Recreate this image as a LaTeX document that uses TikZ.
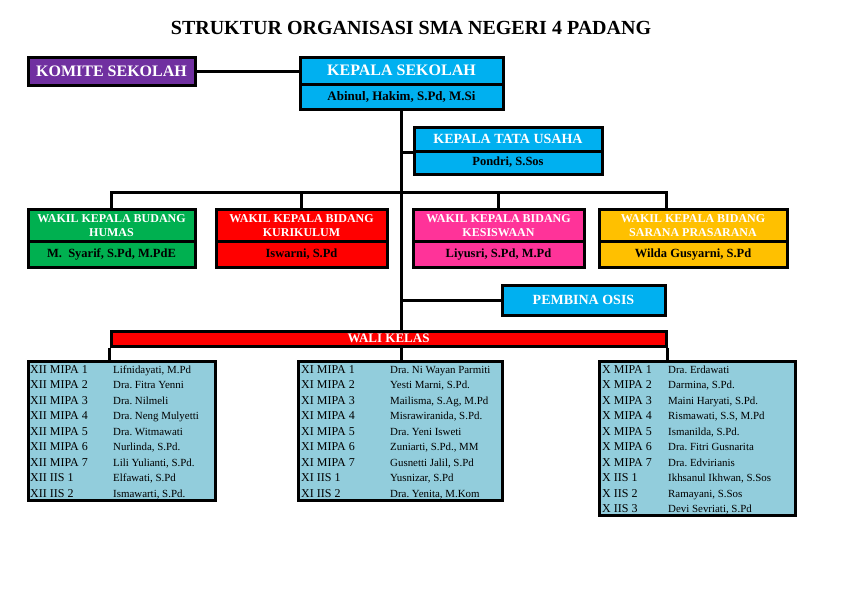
\documentclass[tikz,border=0pt]{standalone}
\usepackage{fontspec}
\setmainfont{Liberation Serif}
\usetikzlibrary{calc}
\frenchspacing
\definecolor{komite}{HTML}{7030A0}
\definecolor{biru}{HTML}{00B0F0}
\definecolor{humas}{HTML}{00B050}
\definecolor{kurikulum}{HTML}{FF0000}
\definecolor{kesiswaan}{HTML}{FF3399}
\definecolor{sarana}{HTML}{FFC000}
\definecolor{tabel}{HTML}{92CDDC}

\begin{document}
\begin{tikzpicture}[x=1pt,y=-1pt,
  box/.style={draw=black, line width=3pt, inner sep=0pt, align=center},
  head/.style={box, text=white, font=\fontsize{16}{17}\selectfont\bfseries},
  nama/.style={box, text=black, font=\fontsize{12.5}{13}\selectfont\bfseries},
  wk/.style={box, text=white, font=\fontsize{12}{14.3}\selectfont\bfseries, minimum height=32},
  wknama/.style={nama, minimum height=26},
  link/.style={line width=3pt},
  tabel/.style={box, fill=tabel},
  kls/.style={inner sep=0pt, anchor=base west, font=\fontsize{12}{13}\selectfont},
  guru/.style={inner sep=0pt, anchor=base west, font=\fontsize{10.9}{12}\selectfont}]
\useasboundingbox (0,0) rectangle (842,595);
\node[font=\fontsize{20}{22}\selectfont\bfseries] (judul) at (411,28) {STRUKTUR ORGANISASI SMA NEGERI 4 PADANG};

\node[head, fill=komite, minimum width=167, minimum height=28] (komite) at (111.5,71) {KOMITE SEKOLAH};
\node[head, fill=biru, minimum width=203, minimum height=27] (kepala) at (401.5,70.5) {KEPALA SEKOLAH};
\node[nama, fill=biru, minimum width=203, minimum height=25, font=\fontsize{13}{14}\selectfont\bfseries] (kepalanama) at (401.5,96.5) {Abinul, Hakim, S.Pd, M.Si};
\node[head, fill=biru, minimum width=188, minimum height=24, font=\fontsize{14}{15}\selectfont\bfseries] (tu) at (508,139) {KEPALA TATA USAHA};
\node[nama, fill=biru, minimum width=188, minimum height=23] (tunama) at (508,162.5) {Pondri, S.Sos};

\foreach \id/\x/\w/\c/\lab/\per in {
 hm/111.5/167/humas/{WAKIL KEPALA BUDANG\\HUMAS}/{M.\ \ Syarif, S.Pd, M.PdE},
 kr/301.5/171/kurikulum/{WAKIL KEPALA BIDANG\\KURIKULUM}/{Iswarni, S.Pd},
 ks/498.5/171/kesiswaan/{WAKIL KEPALA BIDANG\\KESISWAAN}/{Liyusri, S.Pd, M.Pd},
 sr/693/188/sarana/{WAKIL KEPALA BIDANG\\SARANA PRASARANA}/{Wilda Gusyarni, S.Pd}} {
 \node[wk, fill=\c, minimum width=\w] (t\id) at (\x,225.5) {\lab};
 \node[wknama, fill=\c, minimum width=\w] (b\id) at (\x,254.5) {\per};
}

\node[head, fill=biru, minimum width=163, minimum height=30, font=\fontsize{14}{15}\selectfont\bfseries] (pembina) at (583.5,300) {PEMBINA OSIS};
\node[head, fill=kurikulum, minimum width=555, minimum height=15, font=\fontsize{13}{14}\selectfont\bfseries] (wali) at (388.5,338.5) {WALI KELAS};

% connectors
\coordinate (br) at (0,192);
\draw[link] (komite.east) -- (komite.east -| kepala.west);
\draw[link] (kepalanama.south) -- (kepalanama.south |- wali.north);
\draw[link] (kepalanama.south |- tu.south) -- (tu.south west);
\draw[link] (thm.north) |- (br -| pembina.east) -- (pembina.east |- tsr.north);
\foreach \id in {kr,ks}
 \draw[link] (t\id.north) -- (t\id.north |- br);
\draw[link] (kepalanama.south |- pembina.west) -- (pembina.west);

% wali kelas
\node[tabel, minimum width=187, minimum height=139] (kelas12) at (121.5,430.5) {};
\node[tabel, minimum width=204, minimum height=139] (kelas11) at (400,430.5) {};
\node[tabel, minimum width=196, minimum height=154] (kelas10) at (697,438) {};
\draw[link] (wali.south west) -- (wali.south west |- kelas12.north);
\draw[link] (wali.south -| kepalanama.south) -- (kelas11.north -| kepalanama.south);
\draw[link] (wali.south east) -- (wali.south east |- kelas10.north);

\foreach \k/\n [count=\i] in {XII MIPA 1/{Lifnidayati, M.Pd}, XII MIPA 2/Dra. Fitra Yenni,
 XII MIPA 3/Dra. Nilmeli, XII MIPA 4/Dra. Neng Mulyetti, XII MIPA 5/Dra. Witmawati,
 XII MIPA 6/{Nurlinda, S.Pd.}, XII MIPA 7/{Lili Yulianti, S.Pd.}, XII IIS 1/{Elfawati, S.Pd},
 XII IIS 2/{Ismawarti, S.Pd.}} {
 \node[kls] (k12\i) at (30,{373+15.5*(\i-1)}) {\k};
 \node[guru] (g12\i) at (113,{373+15.5*(\i-1)}) {\n};
}
\foreach \k/\n [count=\i] in {XI MIPA 1/Dra. Ni Wayan Parmiti, XI MIPA 2/{Yesti Marni, S.Pd.},
 XI MIPA 3/{Mailisma, S.Ag, M.Pd}, XI MIPA 4/{Misrawiranida, S.Pd.}, XI MIPA 5/Dra. Yeni Isweti,
 XI MIPA 6/{Zuniarti, S.Pd., MM}, XI MIPA 7/{Gusnetti Jalil, S.Pd}, XI IIS 1/{Yusnizar, S.Pd},
 XI IIS 2/{Dra. Yenita, M.Kom}} {
 \node[kls] (k11\i) at (301,{373+15.5*(\i-1)}) {\k};
 \node[guru] (g11\i) at (390,{373+15.5*(\i-1)}) {\n};
}
\foreach \k/\n [count=\i] in {X MIPA 1/Dra. Erdawati, X MIPA 2/{Darmina, S.Pd.},
 X MIPA 3/{Maini Haryati, S.Pd.}, X MIPA 4/{Rismawati, S.S, M.Pd}, X MIPA 5/{Ismanilda, S.Pd.},
 X MIPA 6/Dra. Fitri Gusnarita, X MIPA 7/Dra. Edvirianis, X IIS 1/{Ikhsanul Ikhwan, S.Sos},
 X IIS 2/{Ramayani, S.Sos}, X IIS 3/{Devi Sevriati, S.Pd}} {
 \node[kls] (k10\i) at (602,{373+15.5*(\i-1)}) {\k};
 \node[guru] (g10\i) at (668,{373+15.5*(\i-1)}) {\n};
}
\end{tikzpicture}
\end{document}
